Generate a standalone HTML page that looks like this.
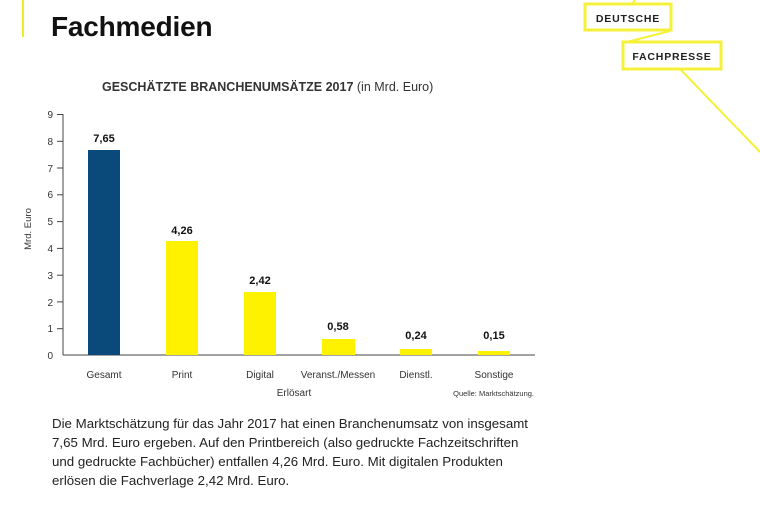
<!DOCTYPE html>
<html><head><meta charset="utf-8"><style>
html,body{margin:0;padding:0;background:#fff;}
body{width:760px;height:507px;overflow:hidden;position:relative;font-family:"Liberation Sans",sans-serif;}
</style></head><body>
<svg width="760" height="507" viewBox="0 0 760 507" xmlns="http://www.w3.org/2000/svg" style="position:absolute;left:0;top:0">
<line x1="23" y1="0" x2="23" y2="37" stroke="#f0ec20" stroke-width="2"/>
<text x="51" y="36" font-size="28" font-weight="bold" fill="#111" letter-spacing="-0.2">Fachmedien</text>
<line x1="635" y1="0" x2="632" y2="4" stroke="#f5f03a" stroke-width="2"/>
<rect x="585" y="4" width="86" height="26" fill="#fff" stroke="#f5f03a" stroke-width="3"/>
<text x="628" y="22" font-size="10.5" font-weight="bold" fill="#222" text-anchor="middle" letter-spacing="0.8">DEUTSCHE</text>
<line x1="670" y1="31" x2="627" y2="42" stroke="#f5f03a" stroke-width="2"/>
<rect x="623" y="42" width="98" height="27" fill="#fff" stroke="#f5f03a" stroke-width="3"/>
<text x="672" y="60" font-size="10.5" font-weight="bold" fill="#222" text-anchor="middle" letter-spacing="0.8">FACHPRESSE</text>
<line x1="681" y1="70" x2="760" y2="152" stroke="#f5f03a" stroke-width="2"/>
<text x="102" y="91" font-size="12.5" font-weight="bold" fill="#333">GESCHÄTZTE BRANCHENUMSÄTZE 2017 <tspan font-weight="normal">(in Mrd. Euro)</tspan></text>
<g stroke="#444" stroke-width="1">
<line x1="63" y1="114" x2="63" y2="355"/>
<line x1="63" y1="355" x2="535" y2="355"/>
<line x1="57" y1="114.5" x2="63" y2="114.5"/><line x1="57" y1="141.3" x2="63" y2="141.3"/>
<line x1="57" y1="168" x2="63" y2="168"/><line x1="57" y1="194.8" x2="63" y2="194.8"/>
<line x1="57" y1="221.6" x2="63" y2="221.6"/><line x1="57" y1="248.4" x2="63" y2="248.4"/>
<line x1="57" y1="275.2" x2="63" y2="275.2"/><line x1="57" y1="301.9" x2="63" y2="301.9"/>
<line x1="57" y1="328.7" x2="63" y2="328.7"/>
</g>
<g font-size="10" fill="#333" text-anchor="end">
<text x="53" y="118">9</text><text x="53" y="145">8</text><text x="53" y="172">7</text>
<text x="53" y="198">6</text><text x="53" y="225">5</text><text x="53" y="252">4</text>
<text x="53" y="279">3</text><text x="53" y="306">2</text><text x="53" y="332">1</text>
<text x="53" y="359">0</text>
</g>
<text transform="translate(31,229) rotate(-90)" font-size="9.5" fill="#333" text-anchor="middle">Mrd. Euro</text>
<rect x="88" y="150" width="32" height="205" fill="#0a4a7a"/>
<rect x="166" y="241" width="32" height="114" fill="#fff200"/>
<rect x="244" y="292" width="32" height="63" fill="#fff200"/>
<rect x="322" y="339" width="33" height="16" fill="#fff200"/>
<rect x="400" y="349" width="32" height="6" fill="#fff200"/>
<rect x="478" y="351" width="32" height="4" fill="#fff200"/>
<g font-size="11" font-weight="bold" fill="#111" text-anchor="middle">
<text x="104" y="142">7,65</text><text x="182" y="234">4,26</text><text x="260" y="284">2,42</text>
<text x="338" y="330">0,58</text><text x="416" y="339">0,24</text><text x="494" y="339">0,15</text>
</g>
<g font-size="10" fill="#333" text-anchor="middle">
<text x="104" y="378">Gesamt</text><text x="182" y="378">Print</text><text x="260" y="378">Digital</text>
<text x="338" y="378">Veranst./Messen</text><text x="416" y="378">Dienstl.</text><text x="494" y="378">Sonstige</text>
<text x="294" y="396">Erlösart</text>
</g>
<text x="534" y="396" font-size="7.5" fill="#333" text-anchor="end">Quelle: Marktschätzung.</text>
<g font-size="13.3" fill="#222">
<text x="52" y="428">Die Marktschätzung für das Jahr 2017 hat einen Branchenumsatz von insgesamt</text>
<text x="52" y="447">7,65 Mrd. Euro ergeben. Auf den Printbereich (also gedruckte Fachzeitschriften</text>
<text x="52" y="466">und gedruckte Fachbücher) entfallen 4,26 Mrd. Euro. Mit digitalen Produkten</text>
<text x="52" y="485">erlösen die Fachverlage 2,42 Mrd. Euro.</text>
</g>
</svg>
</body></html>
